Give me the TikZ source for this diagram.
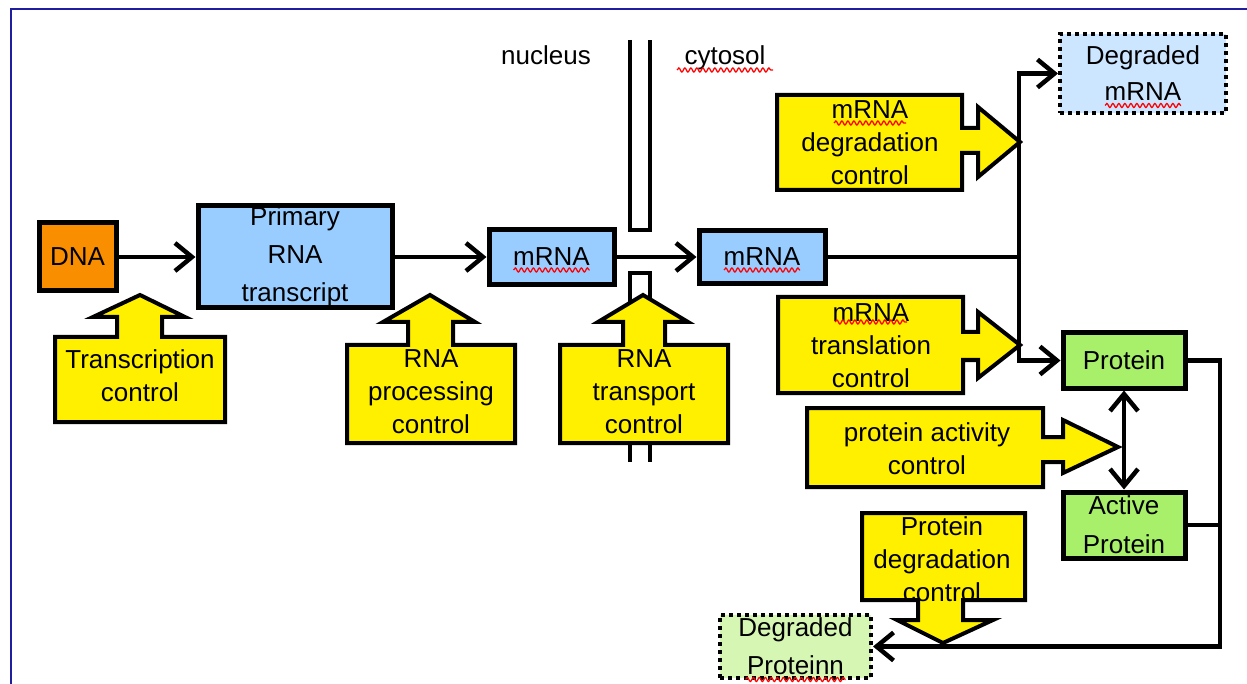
\documentclass[tikz,border=0pt]{standalone}
\usepackage{fontspec}
\setmainfont{Liberation Sans}
\usetikzlibrary{arrows.meta,decorations.pathmorphing}

\definecolor{frameblue}{HTML}{1E1E9E}
\definecolor{dnaorange}{HTML}{F98E00}
\definecolor{rnablue}{HTML}{99CCFF}
\definecolor{paleblue}{HTML}{CCE6FF}
\definecolor{protgreen}{HTML}{A8F06A}
\definecolor{palegreen}{HTML}{D6F7B4}
\definecolor{ctrlyellow}{HTML}{FFF000}

\begin{document}
\begin{tikzpicture}[x=1pt,y=-1pt,
  every node/.style={font=\fontsize{26}{33}\selectfont, align=center, inner sep=0pt},
  >={Straight Barb[length=17pt,width=28pt]},
  box/.style={draw=black, line width=5pt},
  dotbox/.style={draw=black, line width=4pt, dash pattern=on 4pt off 4pt},
  conn/.style={draw=black, line width=4.5pt},
  memb/.style={draw=black, line width=4.5pt},
  callout/.style={fill=ctrlyellow, draw=black, line width=4pt, line join=miter},
  ctext/.style={font=\fontsize{26}{33}\selectfont},
  wavy/.style={draw=red, line width=1.3pt, decorate,
    decoration={snake, amplitude=2pt, segment length=6pt}}]

\useasboundingbox (0,0) rectangle (1247,684);

% page frame (top and left edges)
\draw[frameblue, line width=2.5pt] (11,700) -- (11,9) -- (1260,9);

% nuclear envelope
\draw[memb] (630,40) -- (630,230) -- (650,230) -- (650,40);
\draw[memb] (630,462) -- (630,273) -- (650,273) -- (650,462);
\node[anchor=base] (nuc) at (546,65) {nucleus};
\node[anchor=base] (cyt) at (725,65) {cytosol};

% main species
\node[box, fill=dnaorange, minimum width=77pt, minimum height=68pt] (dna) at (77.5,257) {DNA};
\node[box, fill=rnablue, minimum width=194pt, minimum height=102pt,
      font=\fontsize{26}{38}\selectfont] (pri) at (295,257) {Primary\\RNA\\transcript};
\node[box, fill=rnablue, minimum width=125pt, minimum height=55pt] (m1) at (551.5,257) {mRNA};
\node[box, fill=rnablue, minimum width=126pt, minimum height=53pt] (m2) at (762,257) {mRNA};
\node[dotbox, fill=paleblue, minimum width=166pt, minimum height=79pt,
      font=\fontsize{26}{36}\selectfont] (dm) at (1143,73.5) {Degraded\\mRNA};
\node[box, fill=protgreen, minimum width=122pt, minimum height=55pt] (prot) at (1124,360.5) {Protein};
\node[box, fill=protgreen, minimum width=122pt, minimum height=66pt,
      font=\fontsize{26}{39}\selectfont] (act) at (1124,525) {Active\\Protein};
\node[dotbox, fill=palegreen, minimum width=151pt, minimum height=63pt,
      font=\fontsize{26}{38}\selectfont] (dp) at (795.5,646.5) {Degraded\\Proteinn};

% junction points of the pathway lines
\coordinate (jn) at (1019,257);
\coordinate (rb) at (1220,646.5);

% pathway connectors
\draw[conn,->] (dna.east) -- (pri.west);
\draw[conn,->] (pri.east) -- (m1.west);
\draw[conn,->] (m1.east) -- (m2.west);
\draw[conn] (m2.east) -- (jn);
\draw[conn,->] (jn) |- (dm.west);
\draw[conn,->] (jn) |- (prot.west);
\draw[conn,<->] (prot.south) -- (act.north);
\draw[conn,->] (prot.east) -| (rb) -- (dp.east);
\draw[conn] (act.east) -- (act.east -| rb);

% control callouts (block arrows)
\draw[callout] (55,337) -- (117,337) -- (117,317) -- (93,317) -- (140,295) -- (185,317)
  -- (162,317) -- (162,337) -- (225,337) -- (225,422) -- (55,422) -- cycle;
\node[ctext] (tc) at (140,376) {Transcription\\control};

\draw[callout] (347,345) -- (408,345) -- (408,322) -- (383,322) -- (430,295) -- (475,322)
  -- (453,322) -- (453,345) -- (515,345) -- (515,443) -- (347,443) -- cycle;
\node[ctext] (pc) at (431,392) {RNA\\processing\\control};

\draw[callout] (560,345) -- (623,345) -- (623,322) -- (598,322) -- (643,295) -- (688,322)
  -- (665,322) -- (665,345) -- (728,345) -- (728,443) -- (560,443) -- cycle;
\node[ctext] (tr) at (644,392) {RNA\\transport\\control};

\draw[callout] (777,95) -- (962,95) -- (962,128) -- (978,128) -- (978,107) -- (1020,142)
  -- (978,177) -- (978,153) -- (962,153) -- (962,190) -- (777,190) -- cycle;
\node[ctext] (md) at (870,143) {mRNA\\degradation\\control};

\draw[callout] (778,297) -- (963,297) -- (963,332) -- (978,332) -- (978,312) -- (1020,345)
  -- (978,378) -- (978,360) -- (963,360) -- (963,393) -- (778,393) -- cycle;
\node[ctext] (mt) at (871,346) {mRNA\\translation\\control};

\draw[callout] (807,408) -- (1043,408) -- (1043,437) -- (1063,437) -- (1063,420) -- (1118,447)
  -- (1063,473) -- (1063,462) -- (1043,462) -- (1043,487) -- (807,487) -- cycle;
\node[ctext] (pa) at (927,449) {protein activity\\control};

\draw[callout] (862,513) -- (1025,513) -- (1025,600) -- (963,600) -- (963,620) -- (993,620)
  -- (943,643) -- (897,620) -- (918,620) -- (918,600) -- (862,600) -- cycle;
\node[ctext] (pd) at (942,559) {Protein\\degradation\\control};

% spell-check squiggles
\draw[wavy] ([shift={(-38,13)}]m1.center) -- ([shift={(38,13)}]m1.center);
\draw[wavy] ([shift={(-38,13)}]m2.center) -- ([shift={(38,13)}]m2.center);
\draw[wavy] ([shift={(-48,5)}]cyt.base) -- ([shift={(48,5)}]cyt.base);
\draw[wavy] ([shift={(-38,32)}]dm.center) -- ([shift={(38,32)}]dm.center);
\draw[wavy] ([shift={(-36,-20)}]md.center) -- ([shift={(36,-20)}]md.center);
\draw[wavy] ([shift={(-36,-24)}]mt.center) -- ([shift={(36,-24)}]mt.center);
\draw[wavy] ([shift={(-50,33)}]dp.center) -- ([shift={(50,33)}]dp.center);
\end{tikzpicture}
\end{document}
